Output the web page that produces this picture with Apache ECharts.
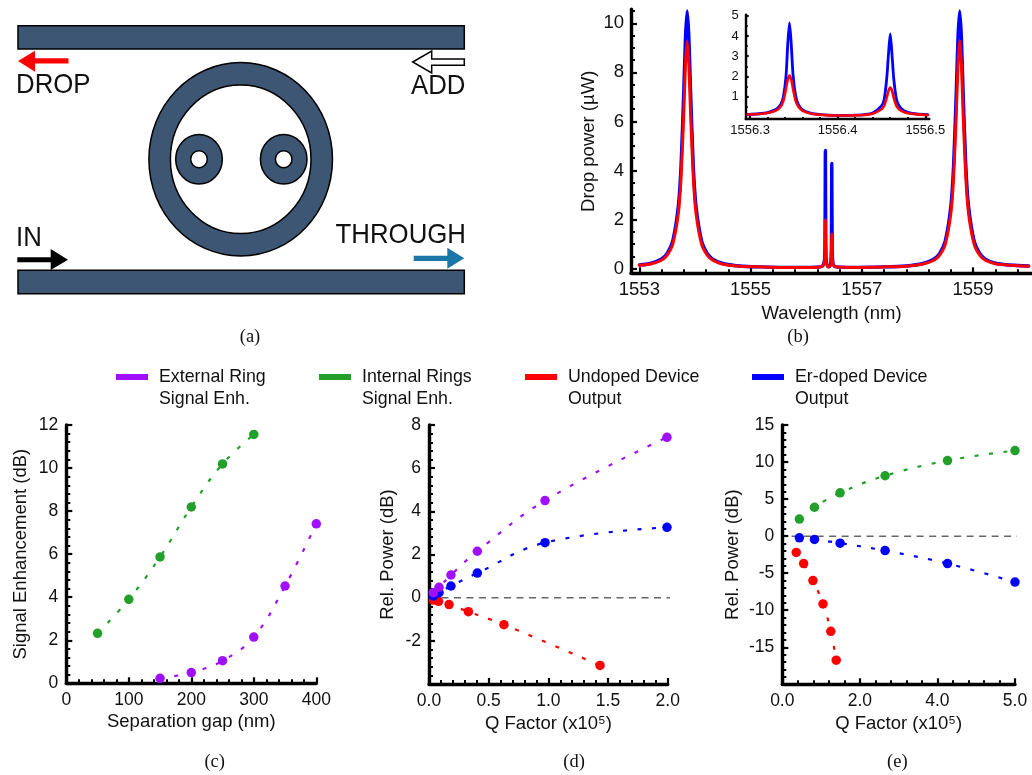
<!DOCTYPE html>
<html><head><meta charset="utf-8">
<script src="https://cdn.jsdelivr.net/npm/echarts@6/dist/echarts.min.js"></script>
<style>html,body{margin:0;padding:0;background:#fff}#c{width:1032px;height:775px}</style>
</head><body><div id="c"></div>
<script>
const PURPLE='#a010ff',GREEN='#22a02a',RED='#ff0000',BLUE='#0000ff';
const NAME_EXT='External Ring\nSignal Enh.',NAME_INT='Internal Rings\nSignal Enh.',NAME_UND='Undoped Device\nOutput',NAME_ER='Er-doped Device\nOutput';
const FONT='"Liberation Sans",Arial,sans-serif';

// Panel (b) main spectrum
const wavelengths=[1553.0,1553.2,1553.4,1553.5,1553.6,1553.7,1553.75,1553.8,1553.83,1553.86,1553.89,1553.92,1553.97,1554.02,1554.12,1554.22,1554.32,1554.5,1554.8,1555.2,1555.6,1556.0,1556.25,1556.3,1556.33,1556.338,1556.345,1556.352,1556.36,1556.38,1556.4,1556.42,1556.44,1556.453,1556.46,1556.467,1556.48,1556.5,1556.55,1556.8,1557.4,1557.8,1558.1,1558.3,1558.4,1558.5,1558.6,1558.65,1558.7,1558.73,1558.76,1558.79,1558.82,1558.87,1558.92,1559.02,1559.12,1559.22,1559.4,1559.6,1559.8,1560.0];
const erPower=[.15,.21,.39,.62,1.12,2.52,4.2,7.3,9.45,10.5,9.45,7.3,4.2,2.52,1.12,.62,.39,.21,.11,.07,.05,.05,.07,.12,.38,1.0,4.82,1.05,.35,.12,.08,.09,.2,.85,4.29,.9,.23,.12,.07,.05,.07,.11,.21,.39,.62,1.12,2.52,4.2,7.3,9.45,10.5,9.45,7.3,4.2,2.52,1.12,.62,.39,.22,.16,.13,.11];
const undopedPower=[.14,.19,.34,.55,.99,2.23,3.7,6.4,8.35,9.27,8.35,6.4,3.7,2.23,.99,.55,.34,.18,.1,.07,.05,.05,.07,.12,.33,.8,1.99,.8,.3,.11,.07,.08,.16,.55,1.41,.55,.18,.11,.07,.05,.07,.1,.19,.34,.55,.99,2.23,3.7,6.4,8.35,9.3,8.35,6.4,3.7,2.23,.99,.55,.34,.2,.15,.12,.1];
// Panel (b) inset
const insetWl=[1556.297,1556.31,1556.32,1556.33,1556.335,1556.338,1556.341,1556.343,1556.345,1556.347,1556.349,1556.352,1556.355,1556.36,1556.37,1556.38,1556.39,1556.40,1556.41,1556.42,1556.43,1556.44,1556.45,1556.453,1556.456,1556.458,1556.46,1556.462,1556.464,1556.467,1556.47,1556.475,1556.48,1556.49,1556.503];
const insetEr=[.12,.16,.22,.38,.62,1.0,2.0,3.6,4.65,3.6,2.1,1.05,.62,.35,.18,.12,.09,.08,.08,.09,.12,.2,.55,.85,1.9,3.1,4.1,3.1,1.9,.9,.55,.32,.23,.15,.11];
const insetUndoped=[.12,.15,.2,.33,.52,.8,1.4,1.85,2.05,1.85,1.4,.8,.52,.3,.16,.11,.08,.07,.07,.08,.1,.16,.38,.55,.95,1.3,1.45,1.3,.95,.55,.38,.25,.18,.13,.1];
// Panel (c)
const gapInternal=[50,100,150,200,250,300];
const enhInternal=[2.32,3.9,5.87,8.19,10.19,11.56];
const gapExternal=[150,200,250,300,350,400];
const enhExternal=[.23,.5,1.05,2.15,4.52,7.41];
// Panel (d)
const qdExternal=[.036,.084,.184,.405,.972,1.994];
const relExternal=[.23,.48,1.05,2.15,4.5,7.43];
const qdEr=[.036,.084,.184,.405,.972,1.994];
const relEr=[.08,.23,.54,1.14,2.55,3.26];
const qdUndoped=[.036,.08,.168,.33,.628,1.433];
const relUndoped=[-.11,-.17,-.32,-.65,-1.25,-3.14];
// Panel (e): the fourth tick is labelled 5.0 although spaced as if 6.0, so positions use tick spacing
const qeInternal=[.44,.83,1.49,2.65,4.26,6];
const releInternal=[2.3,3.9,5.85,8.15,10.2,11.55];
const qeEr=[.44,.83,1.49,2.65,4.26,6];
const releEr=[-.23,-.45,-.95,-1.95,-3.7,-6.2];
const qeUndoped=[.36,.55,.79,1.05,1.25,1.39];
const releUndoped=[-2.2,-3.7,-6,-9.15,-12.85,-16.75];
// Reference lines
const refD=[[0,0],[2.03,0]];
const refE=[[.24,0],[6.23,0]];
// Tick labels
const bXTicks=[1553,1555,1557,1559],bYTicks=[0,2,4,6,8,10];
const inXTicks=[1556.3,1556.4,1556.5],inYTicks=[1,2,3,4,5];
const cXTicks=[0,100,200,300,400],cYTicks=[0,2,4,6,8,10,12];
const dXTicks=[0,.5,1,1.5,2],dXLabels=['0.0','0.5','1.0','1.5','2.0'],dYTicks=[-2,0,2,4,6,8];
const eXTicks=[0,2,4,6],eXLabels=['0.0','2.0','4.0','5.0'],eYTicks=[-15,-10,-5,0,5,10,15];

const zip=(a,b)=>a.map((v,i)=>[v,b[i]]);
function steps(from,to,st){const r=[];const n=Math.round((to-from)/st);for(let i=0;i<=n;i++)r.push(+(from+i*st).toFixed(4));return r;}

const grids=[],xAxes=[],yAxes=[],series=[];
function panel(g,x,y){
  const gi=grids.length;
  grids.push({left:g.l,top:g.t,width:g.r-g.l,height:g.b-g.t,containLabel:false});
  const fs=x.fs||17.5, lw=g.lw||3.4;
  const ax={type:'value',gridIndex:gi,splitLine:{show:false},axisPointer:{show:false}};
  const lx=(v)=>{const i=x.major.indexOf(v);return x.labels?x.labels[i]:(''+v);};
  const main=xAxes.length;
  xAxes.push({...ax,position:'bottom',min:x.min,max:x.max,
    name:x.name||'',nameLocation:'middle',nameGap:x.gap||30,nameTextStyle:{fontFamily:FONT,fontSize:x.nfs||18.5,color:'#111'},
    axisLine:{show:true,onZero:false,lineStyle:{color:'#000',width:lw}},
    axisTick:{show:true,inside:true,length:x.tl||6,customValues:x.major,lineStyle:{color:'#000',width:2.2}},
    axisLabel:{show:true,customValues:x.major,margin:x.margin||8,formatter:lx,fontFamily:FONT,fontSize:fs,color:'#111',hideOverlap:false,showMinLabel:true,showMaxLabel:true}});
  xAxes.push({...ax,position:'bottom',min:x.min,max:x.max,axisLine:{show:false,onZero:false},
    axisTick:{show:true,inside:true,length:x.ml||4,customValues:x.minor,lineStyle:{color:'#000',width:2}},axisLabel:{show:false}});
  const mainY=yAxes.length;
  yAxes.push({...ax,position:'left',min:y.min,max:y.max,
    name:y.name||'',nameLocation:'middle',nameGap:y.gap||30,nameRotate:90,nameTextStyle:{fontFamily:FONT,fontSize:y.nfs||18.5,color:'#111'},
    axisLine:{show:true,onZero:false,lineStyle:{color:'#000',width:lw}},
    axisTick:{show:true,inside:true,length:y.tl||6,customValues:y.major,lineStyle:{color:'#000',width:2.2}},
    axisLabel:{show:true,customValues:y.major,margin:y.margin||8,formatter:(v)=>''+v,fontFamily:FONT,fontSize:fs,color:'#111',hideOverlap:false}});
  yAxes.push({...ax,position:'left',min:y.min,max:y.max,axisLine:{show:false,onZero:false},
    axisTick:{show:true,inside:true,length:y.ml||4,customValues:y.minor,lineStyle:{color:'#000',width:2}},axisLabel:{show:false}});
  return {xAxisIndex:main,yAxisIndex:mainY};
}
function curve(ax,name,color,data,w){
  series.push({...ax,type:'line',name,data,symbol:'none',smooth:.25,clip:false,silent:true,animation:false,
    itemStyle:{color},lineStyle:{color,width:w,cap:'round',join:'round'}});
}
function dotted(ax,name,color,data){
  series.push({...ax,type:'line',name,data,symbol:'circle',symbolSize:9.5,smooth:.4,clip:false,silent:true,animation:false,showSymbol:true,
    itemStyle:{color},lineStyle:{color,width:2.2,type:[4,10.5]}});
}
function ref(ax,data){
  series.push({...ax,type:'line',data,symbol:'none',clip:false,silent:true,animation:false,z:1,
    itemStyle:{color:'#666'},lineStyle:{color:'#666',width:1.5,type:[7,5.5]}});
}

// (b) main
let a=panel({l:631,r:1032,t:9.3,b:273.3},
 {min:1552.85,max:1560.06,major:bXTicks,minor:steps(1553,1560,.4),name:'Wavelength (nm)',gap:31,fs:18.5,margin:7,nfs:18.5},
 {min:-.19,max:10.57,major:bYTicks,minor:steps(0,10.5,.5),name:'Drop power (µW)',gap:33,fs:18.5,margin:7,nfs:18.5});
curve(a,NAME_ER,BLUE,zip(wavelengths,erPower),3.4);
curve(a,NAME_UND,RED,zip(wavelengths,undopedPower),3);
// (b) inset
a=panel({l:745.7,r:929.3,t:14.7,b:119,lw:2.4},
 {min:1556.295,max:1556.5046,major:inXTicks,labels:['1556.3','1556.4','1556.5'],minor:steps(1556.3,1556.5,.02),fs:13,margin:5,tl:3,ml:2},
 {min:-.1,max:5.05,major:inYTicks,minor:steps(.5,5,.5),fs:13,margin:7,tl:3,ml:2});
curve(a,NAME_ER,BLUE,zip(insetWl,insetEr),2.8);
curve(a,NAME_UND,RED,zip(insetWl,insetUndoped),2.6);
// (c)
a=panel({l:66.3,r:316.3,t:425,b:683.3},
 {min:0,max:400,major:cXTicks,minor:steps(0,400,20),name:'Separation gap (nm)',gap:29},
 {min:0,max:12,major:cYTicks,minor:steps(0,12,.4),name:'Signal Enhancement (dB)',gap:36});
dotted(a,NAME_INT,GREEN,zip(gapInternal,enhInternal));
dotted(a,NAME_EXT,PURPLE,zip(gapExternal,enhExternal));
// (d)
a=panel({l:429,r:667.7,t:425,b:684},
 {min:0,max:2,major:dXTicks,labels:dXLabels,minor:steps(0,2,.1),name:'Q Factor (x10⁵)',gap:30},
 {min:-4,max:8,major:dYTicks,minor:steps(-4,8,.4),name:'Rel. Power (dB)',gap:32},);
ref(a,refD);
dotted(a,NAME_UND,RED,zip(qdUndoped,relUndoped));
dotted(a,NAME_ER,BLUE,zip(qdEr,relEr));
dotted(a,NAME_EXT,PURPLE,zip(qdExternal,relExternal));
// (e)
a=panel({l:782.3,r:1015,t:425,b:684.3},
 {min:0,max:6,major:eXTicks,labels:eXLabels,minor:steps(0,6,.4),name:'Q Factor (x10⁵)',gap:30},
 {min:-20,max:15,major:eYTicks,minor:steps(-20,15,1),name:'Rel. Power (dB)',gap:40});
ref(a,refE);
dotted(a,NAME_UND,RED,zip(qeUndoped,releUndoped));
dotted(a,NAME_ER,BLUE,zip(qeEr,releEr));
dotted(a,NAME_INT,GREEN,zip(qeInternal,releInternal));

function legendAt(name,left){
  return {show:true,data:[{name,icon:'rect'}],left,top:344,padding:0,orient:'horizontal',itemWidth:32,itemHeight:6,selectedMode:false,
    formatter:(n)=>'\n'+n,textStyle:{fontFamily:FONT,fontSize:17.8,lineHeight:22,color:'#111',padding:[0,0,0,6]}};
}

// Schematic (a)
const DARK='#3d5673';
const ell=(cx,cy,rx,ry,fill,z)=>({type:'ellipse',shape:{cx,cy,rx,ry},style:{fill,stroke:'#000',lineWidth:1.5},z});
const bar=(y,h)=>({type:'rect',shape:{x:18,y,width:446.3,height:h},style:{fill:DARK,stroke:'#000',lineWidth:1.5},z:10});
const poly=(points,fill,stroke)=>({type:'polygon',shape:{points},style:{fill,stroke:stroke||null,lineWidth:stroke?1.5:0},z:12});
const txt=(t,x,y,al,size,fam,sy)=>({type:'text',x,y,scaleY:sy||1,style:{text:t,x:0,y:0,align:al,verticalAlign:'middle',font:size+'px '+fam,fill:'#111'},z:13});
const SERIF='"Liberation Serif","Times New Roman",serif';
const graphics=[
 bar(25.7,23.3),bar(270.3,23.4),
 ell(240.7,159.3,91.8,96.7,DARK,10),ell(240.7,159.3,70.3,74.3,'#fff',11),
 ell(199,159.3,23.3,24.8,DARK,12),ell(199,159.3,8.3,8.5,'#fff',13),
 ell(283.7,159.3,23.3,24.8,DARK,12),ell(283.7,159.3,8.3,8.5,'#fff',13),
 poly([[18,61],[35,50.7],[35,58.3],[68.5,58.3],[68.5,63.6],[35,63.6],[35,71.7]],RED),
 poly([[412.7,62],[431.7,51],[431.7,59],[464.3,59],[464.3,65.3],[431.7,65.3],[431.7,73]],'#fff','#000'),
 poly([[68,259.7],[50.7,249],[50.7,257.3],[17.3,257.3],[17.3,262.3],[50.7,262.3],[50.7,270]],'#000'),
 poly([[464.3,258.3],[447.3,247.7],[447.3,255.7],[413.7,255.7],[413.7,261],[447.3,261],[447.3,268.7]],'#1a77a8'),
 txt('DROP',16,85,'left',25.8,FONT,1.1),txt('ADD',465.5,86.5,'right',25.8,FONT,1.1),
 txt('IN',16,238,'left',25.8,FONT,1.1),txt('THROUGH',466,235.5,'right',25.8,FONT,1.1),
 txt('(a)',250,337,'center',18.5,SERIF),txt('(b)',798,337,'center',18.5,SERIF),
 txt('(c)',214.7,761.7,'center',18.5,SERIF),txt('(d)',574,761.7,'center',18.5,SERIF),txt('(e)',897.3,761.7,'center',18.5,SERIF)
];

const chart=echarts.init(document.getElementById('c'),null,{renderer:'canvas',width:1032,height:775});
chart.setOption({animation:false,backgroundColor:'#fff',tooltip:{show:false},
  grid:grids,xAxis:xAxes,yAxis:yAxes,series,
  legend:[legendAt(NAME_EXT,116),legendAt(NAME_INT,319),legendAt(NAME_UND,525),legendAt(NAME_ER,752)],
  graphic:{elements:graphics}});
</script></body></html>
